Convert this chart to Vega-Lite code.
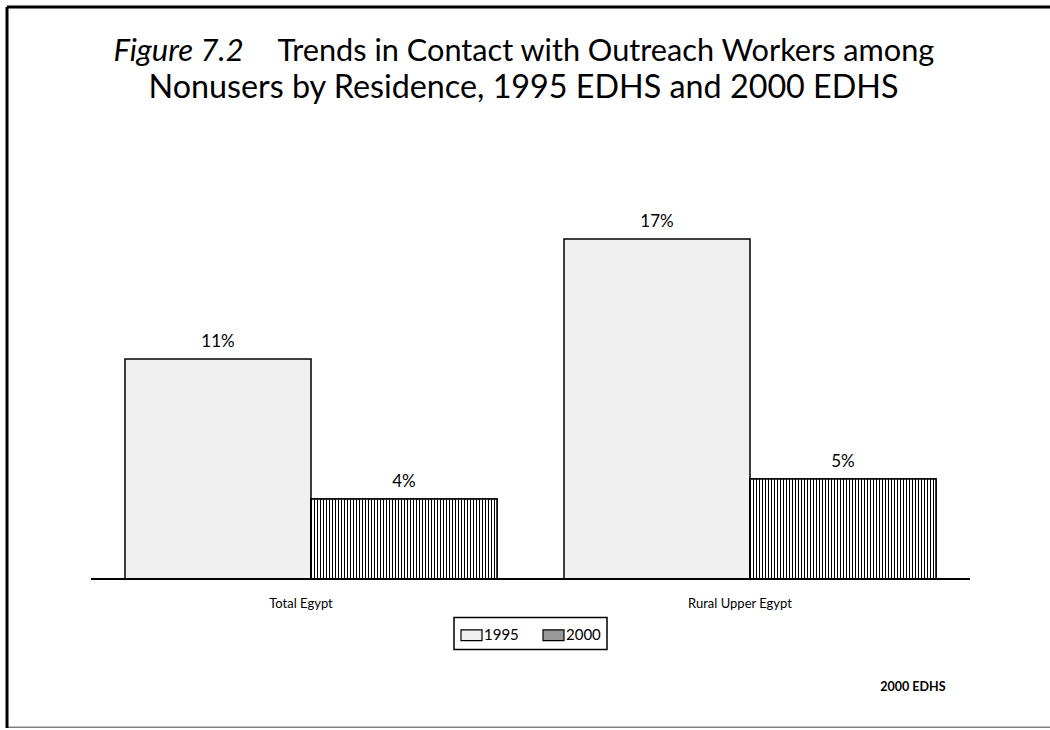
{
  "$schema": "https://vega.github.io/schema/vega-lite/v6.json",
  "width": 1046,
  "height": 721,
  "autosize": "none",
  "padding": {"left": 6.5, "top": 6.5, "right": 0, "bottom": 0},
  "background": "white",
  "title": {
    "text": "Nonusers by Residence, 1995 EDHS and 2000 EDHS",
    "anchor": "middle", "frame": "group", "dx": -6, "offset": -98,
    "font": "Lato", "fontSize": 32.3, "fontWeight": "normal", "color": "#000"
  },
  "data": {"values": [
    {"region": "Total Egypt", "year": "1995", "value": 11, "label": "11%"},
    {"region": "Total Egypt", "year": "2000", "value": 4, "label": "4%"},
    {"region": "Rural Upper Egypt", "year": "1995", "value": 17, "label": "17%"},
    {"region": "Rural Upper Egypt", "year": "2000", "value": 5, "label": "5%"}
  ]},
  "resolve": {"axis": {"x": "independent"}},
  "layer": [
    {
      "mark": {"type": "bar", "stroke": "#000", "strokeWidth": 1.5},
      "encoding": {
        "x": {"field": "region", "type": "nominal", "sort": null,
          "scale": {"paddingInner": 0.15262, "paddingOuter": 0.267654, "align": 0.504255},
          "axis": {"orient": "bottom", "offset": 0, "domain": true, "domainColor": "#808080", "domainWidth": 3,
            "ticks": false, "tickSize": 0, "labelPadding": -124.5, "labelBaseline": "middle", "labelAngle": 0, "labelOffset": -10,
            "labelFont": "Lato", "labelFontSize": 13, "labelColor": "#000",
            "title": "2000 EDHS", "titleX": 938.5, "titleY": -41.5, "titleAlign": "right", "titleBaseline": "middle",
            "titleFont": "Lato", "titleFontSize": 12.5, "titleFontWeight": "bold", "titleColor": "#000"}},
        "xOffset": {"field": "year", "type": "nominal", "scale": {"paddingInner": 0, "paddingOuter": 0}},
        "y": {"field": "value", "type": "quantitative", "stack": null,
          "scale": {"domain": [-7.425, 28.625], "nice": false, "zero": false},
          "axis": {"orient": "left", "domain": true, "domainColor": "#000", "domainWidth": 3, "labels": false, "ticks": false, "grid": false,
            "title": "Figure 7.2", "titleAngle": 0, "titleX": 106.5, "titleY": 53.5, "titleAlign": "left", "titleBaseline": "alphabetic",
            "titleFont": "Lato", "titleFontSize": 31, "titleFontStyle": "italic", "titleFontWeight": "normal", "titleColor": "#000"}},
        "y2": {"datum": 0},
        "color": {"field": "year", "type": "nominal", "scale": {"range": ["#f0f0f0", "#999999"]},
          "legend": {"orient": "none", "legendX": 447.5, "legendY": 611, "direction": "horizontal", "title": null,
            "strokeColor": "#000", "padding": 6,
            "symbolType": "M-1,-0.52H1V0.52H-1Z", "symbolSize": 441, "symbolStrokeColor": "#000", "symbolStrokeWidth": 1.2, "symbolOpacity": 1,
            "labelFont": "Lato", "labelFontSize": 15, "labelColor": "#000", "labelOffset": 1, "columnPadding": 21}}
      }
    },
    {
      "transform": [{"filter": "datum.year == '2000'"}],
      "mark": {"type": "bar", "stroke": "#000", "strokeWidth": 1.5,
        "fill": {"gradient": "linear", "x1": 0, "y1": 0, "x2": 1, "y2": 0, "stops": [
          {"offset":0,"color":"#000"},{"offset":0.00538,"color":"#000"},{"offset":0.00538,"color":"#fff"},{"offset":0.01613,"color":"#fff"},
          {"offset":0.01613,"color":"#000"},{"offset":0.02151,"color":"#000"},{"offset":0.02151,"color":"#fff"},{"offset":0.03226,"color":"#fff"},
          {"offset":0.03226,"color":"#000"},{"offset":0.03764,"color":"#000"},{"offset":0.03764,"color":"#fff"},{"offset":0.04839,"color":"#fff"},
          {"offset":0.04839,"color":"#000"},{"offset":0.05377,"color":"#000"},{"offset":0.05377,"color":"#fff"},{"offset":0.06452,"color":"#fff"},
          {"offset":0.06452,"color":"#000"},{"offset":0.0699,"color":"#000"},{"offset":0.0699,"color":"#fff"},{"offset":0.08065,"color":"#fff"},
          {"offset":0.08065,"color":"#000"},{"offset":0.08603,"color":"#000"},{"offset":0.08603,"color":"#fff"},{"offset":0.09677,"color":"#fff"},
          {"offset":0.09677,"color":"#000"},{"offset":0.10215,"color":"#000"},{"offset":0.10215,"color":"#fff"},{"offset":0.1129,"color":"#fff"},
          {"offset":0.1129,"color":"#000"},{"offset":0.11828,"color":"#000"},{"offset":0.11828,"color":"#fff"},{"offset":0.12903,"color":"#fff"},
          {"offset":0.12903,"color":"#000"},{"offset":0.13441,"color":"#000"},{"offset":0.13441,"color":"#fff"},{"offset":0.14516,"color":"#fff"},
          {"offset":0.14516,"color":"#000"},{"offset":0.15054,"color":"#000"},{"offset":0.15054,"color":"#fff"},{"offset":0.16129,"color":"#fff"},
          {"offset":0.16129,"color":"#000"},{"offset":0.16667,"color":"#000"},{"offset":0.16667,"color":"#fff"},{"offset":0.17742,"color":"#fff"},
          {"offset":0.17742,"color":"#000"},{"offset":0.1828,"color":"#000"},{"offset":0.1828,"color":"#fff"},{"offset":0.19355,"color":"#fff"},
          {"offset":0.19355,"color":"#000"},{"offset":0.19893,"color":"#000"},{"offset":0.19893,"color":"#fff"},{"offset":0.20968,"color":"#fff"},
          {"offset":0.20968,"color":"#000"},{"offset":0.21506,"color":"#000"},{"offset":0.21506,"color":"#fff"},{"offset":0.22581,"color":"#fff"},
          {"offset":0.22581,"color":"#000"},{"offset":0.23119,"color":"#000"},{"offset":0.23119,"color":"#fff"},{"offset":0.24194,"color":"#fff"},
          {"offset":0.24194,"color":"#000"},{"offset":0.24732,"color":"#000"},{"offset":0.24732,"color":"#fff"},{"offset":0.25806,"color":"#fff"},
          {"offset":0.25806,"color":"#000"},{"offset":0.26344,"color":"#000"},{"offset":0.26344,"color":"#fff"},{"offset":0.27419,"color":"#fff"},
          {"offset":0.27419,"color":"#000"},{"offset":0.27957,"color":"#000"},{"offset":0.27957,"color":"#fff"},{"offset":0.29032,"color":"#fff"},
          {"offset":0.29032,"color":"#000"},{"offset":0.2957,"color":"#000"},{"offset":0.2957,"color":"#fff"},{"offset":0.30645,"color":"#fff"},
          {"offset":0.30645,"color":"#000"},{"offset":0.31183,"color":"#000"},{"offset":0.31183,"color":"#fff"},{"offset":0.32258,"color":"#fff"},
          {"offset":0.32258,"color":"#000"},{"offset":0.32796,"color":"#000"},{"offset":0.32796,"color":"#fff"},{"offset":0.33871,"color":"#fff"},
          {"offset":0.33871,"color":"#000"},{"offset":0.34409,"color":"#000"},{"offset":0.34409,"color":"#fff"},{"offset":0.35484,"color":"#fff"},
          {"offset":0.35484,"color":"#000"},{"offset":0.36022,"color":"#000"},{"offset":0.36022,"color":"#fff"},{"offset":0.37097,"color":"#fff"},
          {"offset":0.37097,"color":"#000"},{"offset":0.37635,"color":"#000"},{"offset":0.37635,"color":"#fff"},{"offset":0.3871,"color":"#fff"},
          {"offset":0.3871,"color":"#000"},{"offset":0.39248,"color":"#000"},{"offset":0.39248,"color":"#fff"},{"offset":0.40323,"color":"#fff"},
          {"offset":0.40323,"color":"#000"},{"offset":0.40861,"color":"#000"},{"offset":0.40861,"color":"#fff"},{"offset":0.41935,"color":"#fff"},
          {"offset":0.41935,"color":"#000"},{"offset":0.42473,"color":"#000"},{"offset":0.42473,"color":"#fff"},{"offset":0.43548,"color":"#fff"},
          {"offset":0.43548,"color":"#000"},{"offset":0.44086,"color":"#000"},{"offset":0.44086,"color":"#fff"},{"offset":0.45161,"color":"#fff"},
          {"offset":0.45161,"color":"#000"},{"offset":0.45699,"color":"#000"},{"offset":0.45699,"color":"#fff"},{"offset":0.46774,"color":"#fff"},
          {"offset":0.46774,"color":"#000"},{"offset":0.47312,"color":"#000"},{"offset":0.47312,"color":"#fff"},{"offset":0.48387,"color":"#fff"},
          {"offset":0.48387,"color":"#000"},{"offset":0.48925,"color":"#000"},{"offset":0.48925,"color":"#fff"},{"offset":0.5,"color":"#fff"},
          {"offset":0.5,"color":"#000"},{"offset":0.50538,"color":"#000"},{"offset":0.50538,"color":"#fff"},{"offset":0.51613,"color":"#fff"},
          {"offset":0.51613,"color":"#000"},{"offset":0.52151,"color":"#000"},{"offset":0.52151,"color":"#fff"},{"offset":0.53226,"color":"#fff"},
          {"offset":0.53226,"color":"#000"},{"offset":0.53764,"color":"#000"},{"offset":0.53764,"color":"#fff"},{"offset":0.54839,"color":"#fff"},
          {"offset":0.54839,"color":"#000"},{"offset":0.55377,"color":"#000"},{"offset":0.55377,"color":"#fff"},{"offset":0.56452,"color":"#fff"},
          {"offset":0.56452,"color":"#000"},{"offset":0.5699,"color":"#000"},{"offset":0.5699,"color":"#fff"},{"offset":0.58065,"color":"#fff"},
          {"offset":0.58065,"color":"#000"},{"offset":0.58603,"color":"#000"},{"offset":0.58603,"color":"#fff"},{"offset":0.59677,"color":"#fff"},
          {"offset":0.59677,"color":"#000"},{"offset":0.60215,"color":"#000"},{"offset":0.60215,"color":"#fff"},{"offset":0.6129,"color":"#fff"},
          {"offset":0.6129,"color":"#000"},{"offset":0.61828,"color":"#000"},{"offset":0.61828,"color":"#fff"},{"offset":0.62903,"color":"#fff"},
          {"offset":0.62903,"color":"#000"},{"offset":0.63441,"color":"#000"},{"offset":0.63441,"color":"#fff"},{"offset":0.64516,"color":"#fff"},
          {"offset":0.64516,"color":"#000"},{"offset":0.65054,"color":"#000"},{"offset":0.65054,"color":"#fff"},{"offset":0.66129,"color":"#fff"},
          {"offset":0.66129,"color":"#000"},{"offset":0.66667,"color":"#000"},{"offset":0.66667,"color":"#fff"},{"offset":0.67742,"color":"#fff"},
          {"offset":0.67742,"color":"#000"},{"offset":0.6828,"color":"#000"},{"offset":0.6828,"color":"#fff"},{"offset":0.69355,"color":"#fff"},
          {"offset":0.69355,"color":"#000"},{"offset":0.69893,"color":"#000"},{"offset":0.69893,"color":"#fff"},{"offset":0.70968,"color":"#fff"},
          {"offset":0.70968,"color":"#000"},{"offset":0.71506,"color":"#000"},{"offset":0.71506,"color":"#fff"},{"offset":0.72581,"color":"#fff"},
          {"offset":0.72581,"color":"#000"},{"offset":0.73119,"color":"#000"},{"offset":0.73119,"color":"#fff"},{"offset":0.74194,"color":"#fff"},
          {"offset":0.74194,"color":"#000"},{"offset":0.74732,"color":"#000"},{"offset":0.74732,"color":"#fff"},{"offset":0.75806,"color":"#fff"},
          {"offset":0.75806,"color":"#000"},{"offset":0.76344,"color":"#000"},{"offset":0.76344,"color":"#fff"},{"offset":0.77419,"color":"#fff"},
          {"offset":0.77419,"color":"#000"},{"offset":0.77957,"color":"#000"},{"offset":0.77957,"color":"#fff"},{"offset":0.79032,"color":"#fff"},
          {"offset":0.79032,"color":"#000"},{"offset":0.7957,"color":"#000"},{"offset":0.7957,"color":"#fff"},{"offset":0.80645,"color":"#fff"},
          {"offset":0.80645,"color":"#000"},{"offset":0.81183,"color":"#000"},{"offset":0.81183,"color":"#fff"},{"offset":0.82258,"color":"#fff"},
          {"offset":0.82258,"color":"#000"},{"offset":0.82796,"color":"#000"},{"offset":0.82796,"color":"#fff"},{"offset":0.83871,"color":"#fff"},
          {"offset":0.83871,"color":"#000"},{"offset":0.84409,"color":"#000"},{"offset":0.84409,"color":"#fff"},{"offset":0.85484,"color":"#fff"},
          {"offset":0.85484,"color":"#000"},{"offset":0.86022,"color":"#000"},{"offset":0.86022,"color":"#fff"},{"offset":0.87097,"color":"#fff"},
          {"offset":0.87097,"color":"#000"},{"offset":0.87635,"color":"#000"},{"offset":0.87635,"color":"#fff"},{"offset":0.8871,"color":"#fff"},
          {"offset":0.8871,"color":"#000"},{"offset":0.89248,"color":"#000"},{"offset":0.89248,"color":"#fff"},{"offset":0.90323,"color":"#fff"},
          {"offset":0.90323,"color":"#000"},{"offset":0.90861,"color":"#000"},{"offset":0.90861,"color":"#fff"},{"offset":0.91935,"color":"#fff"},
          {"offset":0.91935,"color":"#000"},{"offset":0.92473,"color":"#000"},{"offset":0.92473,"color":"#fff"},{"offset":0.93548,"color":"#fff"},
          {"offset":0.93548,"color":"#000"},{"offset":0.94086,"color":"#000"},{"offset":0.94086,"color":"#fff"},{"offset":0.95161,"color":"#fff"},
          {"offset":0.95161,"color":"#000"},{"offset":0.95699,"color":"#000"},{"offset":0.95699,"color":"#fff"},{"offset":0.96774,"color":"#fff"},
          {"offset":0.96774,"color":"#000"},{"offset":0.97312,"color":"#000"},{"offset":0.97312,"color":"#fff"},{"offset":0.98387,"color":"#fff"},
          {"offset":0.98387,"color":"#000"},{"offset":0.98925,"color":"#000"},{"offset":0.98925,"color":"#fff"},{"offset":1,"color":"#fff"}
        ]}},
      "encoding": {
        "x": {"field": "region", "type": "nominal", "sort": null, "axis": null},
        "xOffset": {"field": "year", "type": "nominal"},
        "y": {"field": "value", "type": "quantitative", "stack": null},
        "y2": {"datum": 0}
      }
    },
    {
      "mark": {"type": "text", "baseline": "alphabetic", "dy": -12, "font": "Lato", "fontSize": 17, "color": "#000"},
      "encoding": {
        "x": {"field": "region", "type": "nominal", "sort": null, "axis": null},
        "xOffset": {"field": "year", "type": "nominal"},
        "y": {"field": "value", "type": "quantitative", "stack": null},
        "text": {"field": "label"}
      }
    },
    {
      "mark": {"type": "tick", "orient": "horizontal", "size": 440, "thickness": 2, "color": "#000", "opacity": 1},
      "encoding": {
        "x": {"field": "region", "type": "nominal", "sort": null,
          "axis": {"orient": "top", "offset": 0, "domain": true, "domainColor": "#000", "domainWidth": 3, "labels": false, "ticks": false,
            "title": "Trends in Contact with Outreach Workers among", "titleX": 270.5, "titleY": 53.5, "titleAngle": 0,
            "titleAlign": "left", "titleBaseline": "alphabetic", "titleFont": "Lato", "titleFontSize": 30.7, "titleFontWeight": "normal", "titleColor": "#000"}},
        "y": {"datum": 0, "type": "quantitative"}
      }
    }
  ],
  "config": {"view": {"stroke": null}, "font": "Lato", "legend": {"strokeWidth": 1.5}}
}
